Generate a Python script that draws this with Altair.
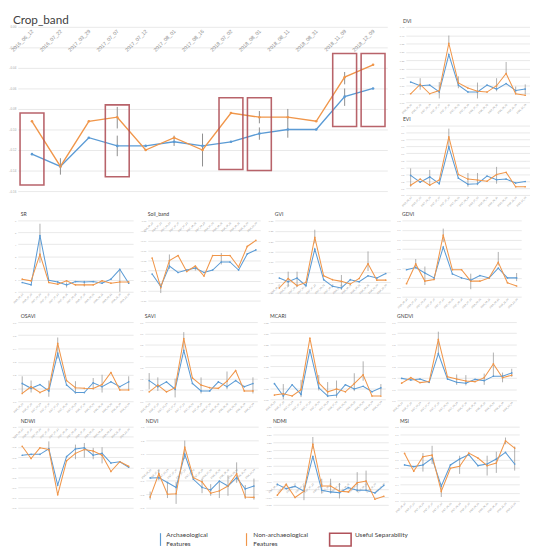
import altair as alt
import numpy as np
import pandas as pd

dates = ["2016_06_12", "2016_07_22", "2017_03_29", "2017_07_07", "2017_07_12",
         "2017_08_01", "2017_08_16", "2018_07_02", "2018_08_01", "2018_08_11",
         "2018_08_31", "2018_11_09", "2018_12_09"]
SERIES = ["Archaeological Features", "Non-archaeological Features"]
BLUE = "#5b9bd5"
ORANGE = "#f0964a"
RED = "#b0525a"

# ---------------- data ----------------
crop_arch = [-0.124, -0.136, -0.108, -0.116, -0.116, -0.112, -0.116, -0.112, -0.104, -0.100, -0.100, -0.068, -0.060]
crop_non = [-0.092, -0.136, -0.092, -0.088, -0.120, -0.108, -0.120, -0.084, -0.088, -0.088, -0.092, -0.049, -0.037]
crop_err_idx = [1, 3, 3, 5, 6, 8, 8, 9, 11, 11]
crop_err_lo = [-0.144, -0.099, -0.126, -0.116, -0.136, -0.094, -0.110, -0.108, -0.056, -0.077]
crop_err_hi = [-0.128, -0.078, -0.106, -0.106, -0.104, -0.082, -0.098, -0.080, -0.044, -0.060]
crop_box_idx = [0, 3, 7, 8, 11, 12]
crop_box_lo = [-0.154, -0.146, -0.139, -0.140, -0.097, -0.097]
crop_box_hi = [-0.084, -0.076, -0.069, -0.069, -0.026, -0.026]

dvi_arch = [0.120, 0.098, 0.102, 0.061, 0.284, 0.102, 0.061, 0.061, 0.102, 0.078, 0.111, 0.069, 0.078]
dvi_non = [0.050, 0.106, 0.050, 0.069, 0.352, 0.115, 0.084, 0.065, 0.060, 0.098, 0.171, 0.050, 0.041]
dvi_err_idx = [1, 3, 4, 5, 7, 9, 10, 11, 12]
dvi_err_lo = [0.074, 0.022, 0.352, 0.083, 0.022, 0.065, 0.167, 0.050, 0.046]
dvi_err_hi = [0.143, 0.120, 0.398, 0.154, 0.117, 0.143, 0.240, 0.093, 0.106]

evi_arch = [0.282, 0.185, 0.260, 0.163, 0.692, 0.242, 0.154, 0.163, 0.273, 0.220, 0.229, 0.172, 0.194]
evi_non = [0.141, 0.229, 0.141, 0.216, 0.837, 0.295, 0.229, 0.216, 0.198, 0.295, 0.326, 0.119, 0.119]
evi_err_idx = [0, 2, 4, 6, 7, 9]
evi_err_lo = [0.119, 0.141, 0.670, 0.119, 0.141, 0.163]
evi_err_hi = [0.383, 0.361, 0.956, 0.317, 0.317, 0.405]

sr_arch = [0.78, 0.58, 4.72, 0.97, 0.83, 0.58, 0.86, 0.83, 0.86, 0.72, 1.06, 1.89, 0.72]
sr_non = [1.06, 0.92, 3.14, 0.78, 0.64, 0.92, 0.58, 0.58, 0.58, 0.92, 0.72, 0.83, 0.83]
sr_err_idx = [2, 2, 5, 7, 11]
sr_err_lo = [3.83, 2.44, 0.36, 0.44, 0.0]
sr_err_hi = [5.72, 3.83, 0.78, 0.92, 1.90]

soil_arch = [-0.107, -0.132, -0.091, -0.104, -0.099, -0.095, -0.104, -0.099, -0.083, -0.083, -0.099, -0.067, -0.059]
soil_non = [-0.075, -0.134, -0.080, -0.070, -0.102, -0.091, -0.111, -0.070, -0.070, -0.070, -0.093, -0.052, -0.040]
soil_err_idx = [1, 2, 5, 8]
soil_err_lo = [-0.145, -0.097, -0.100, -0.088]
soil_err_hi = [-0.126, -0.068, -0.093, -0.065]

gvi_arch = [0.021, 0.003, 0.021, -0.016, 0.161, 0.013, -0.019, -0.027, 0.013, 0.003, 0.032, 0.021, 0.043]
gvi_non = [-0.027, 0.019, -0.016, 0.000, 0.218, 0.032, 0.013, 0.005, -0.008, 0.019, 0.090, 0.011, 0.011]
gvi_err_idx = [1, 2, 4, 7, 10]
gvi_err_lo = [-0.021, -0.021, 0.189, -0.036, 0.055]
gvi_err_hi = [0.052, 0.052, 0.255, 0.036, 0.150]

gdvi_arch = [0.282, 0.306, 0.248, 0.197, 0.520, 0.238, 0.197, 0.173, 0.221, 0.197, 0.299, 0.197, 0.197]
gdvi_non = [0.136, 0.343, 0.163, 0.180, 0.646, 0.282, 0.282, 0.163, 0.163, 0.197, 0.361, 0.146, 0.112]
gdvi_err_idx = [1, 2, 4, 7, 10, 12]
gdvi_err_lo = [0.299, 0.122, 0.571, 0.078, 0.327, 0.163]
gdvi_err_hi = [0.395, 0.316, 0.714, 0.241, 0.469, 0.248]

osavi_arch = [0.135, 0.098, 0.127, 0.078, 0.365, 0.123, 0.066, 0.066, 0.140, 0.110, 0.147, 0.110, 0.147]
osavi_non = [0.059, 0.110, 0.066, 0.096, 0.439, 0.157, 0.103, 0.098, 0.096, 0.127, 0.218, 0.086, 0.086]
osavi_err_idx = [0, 1, 3, 4, 6, 8, 9, 12]
osavi_err_lo = [0.066, 0.066, 0.034, 0.324, 0.059, 0.091, 0.066, 0.091]
osavi_err_hi = [0.189, 0.157, 0.157, 0.483, 0.152, 0.176, 0.201, 0.189]

savi_arch = [0.183, 0.129, 0.171, 0.106, 0.449, 0.157, 0.091, 0.091, 0.171, 0.129, 0.183, 0.129, 0.157]
savi_non = [0.083, 0.143, 0.083, 0.120, 0.554, 0.206, 0.143, 0.120, 0.114, 0.177, 0.271, 0.091, 0.091]
savi_err_idx = [0, 1, 3, 4, 6, 9, 12]
savi_err_lo = [0.106, 0.091, 0.034, 0.449, 0.069, 0.106, 0.069]
savi_err_hi = [0.249, 0.211, 0.200, 0.611, 0.211, 0.263, 0.211]

mcari_arch = [0.071, 0.015, 0.066, 0.022, 0.224, 0.052, 0.015, 0.019, 0.066, 0.047, 0.059, 0.034, 0.052]
mcari_non = [0.019, 0.025, 0.015, 0.044, 0.277, 0.074, 0.034, 0.047, 0.034, 0.071, 0.111, 0.015, 0.015]
mcari_err_idx = [1, 3, 5, 6, 7, 9, 10, 12]
mcari_err_lo = [0.000, 0.010, 0.040, 0.010, 0.007, 0.037, 0.084, 0.019]
mcari_err_hi = [0.069, 0.088, 0.110, 0.078, 0.085, 0.118, 0.172, 0.069]

gndvi_arch = [0.196, 0.182, 0.190, 0.161, 0.418, 0.190, 0.161, 0.153, 0.187, 0.176, 0.216, 0.216, 0.245]
gndvi_non = [0.153, 0.202, 0.158, 0.167, 0.545, 0.210, 0.190, 0.173, 0.167, 0.202, 0.326, 0.202, 0.225]
gndvi_err_idx = [4, 6, 7, 9, 10, 11, 12]
gndvi_err_lo = [0.412, 0.138, 0.133, 0.138, 0.210, 0.161, 0.210]
gndvi_err_hi = [0.614, 0.231, 0.225, 0.239, 0.427, 0.248, 0.282]

ndwi_arch = [-0.282, -0.273, -0.273, -0.219, -0.576, -0.295, -0.219, -0.209, -0.282, -0.263, -0.359, -0.346, -0.400]
ndwi_non = [-0.193, -0.314, -0.209, -0.225, -0.672, -0.337, -0.263, -0.225, -0.241, -0.282, -0.442, -0.346, -0.391]
ndwi_err_idx = [3, 6, 7, 8, 9]
ndwi_err_lo = [-0.241, -0.321, -0.305, -0.321, -0.362]
ndwi_err_hi = [-0.145, -0.177, -0.161, -0.209, -0.203]

ndvi_arch = [-0.079, -0.077, -0.113, -0.149, 0.096, -0.089, -0.149, -0.168, -0.103, -0.139, -0.077, -0.161, -0.139]
ndvi_non = [-0.221, -0.048, -0.199, -0.197, 0.149, -0.077, -0.108, -0.192, -0.175, -0.139, -0.048, -0.221, -0.223]
ndvi_err_idx = [0, 1, 2, 3, 4, 6, 7, 8, 9, 10, 11, 12]
ndvi_err_lo = [-0.240, -0.096, -0.228, -0.271, 0.060, -0.192, -0.211, -0.228, -0.211, -0.115, -0.235, -0.240]
ndvi_err_hi = [-0.180, -0.019, -0.108, -0.108, 0.197, -0.084, -0.125, -0.108, -0.060, 0.036, -0.132, -0.084]

ndmi_arch = [-0.019, -0.046, -0.032, -0.063, 0.160, -0.057, -0.067, -0.072, -0.040, -0.057, -0.057, -0.074, -0.025]
ndmi_non = [-0.088, -0.019, -0.103, -0.063, 0.238, -0.030, -0.030, -0.063, -0.067, -0.009, 0.002, -0.114, -0.095]
ndmi_err_idx = [3, 4, 5, 6, 7, 9, 10]
ndmi_err_lo = [-0.120, 0.206, -0.078, -0.078, -0.109, -0.067, -0.057]
ndmi_err_hi = [-0.025, 0.284, 0.017, 0.017, -0.011, 0.059, 0.069]

msi_arch = [0.872, 0.832, 0.872, 1.032, 0.360, 0.872, 1.016, 1.120, 0.856, 0.896, 1.016, 1.176, 0.896]
msi_non = [1.152, 0.720, 1.072, 1.112, 0.232, 0.792, 0.840, 1.160, 1.040, 0.856, 0.920, 1.456, 1.280]
msi_err_idx = [2, 3, 4, 6, 9, 10, 11, 12]
msi_err_lo = [0.712, 0.896, 0.096, 0.656, 0.616, 0.680, 1.376, 0.736]
msi_err_hi = [1.160, 1.336, 0.416, 1.096, 1.096, 1.192, 1.536, 1.320]

LABEL_EXPR = "[" + ",".join("'%s'" % d for d in dates) + "][datum.value]"
FONT = "Lato"


def panel(title, arch, non, e_idx, e_lo, e_hi, domain, step, w, h,
          axis_at="bottom", big=False, boxes=None, title_dx=0, title_offset=2):
    n = len(dates)
    df = pd.DataFrame({"idx": list(range(n)) * 2, "value": arch + non,
                       "series": [SERIES[0]] * n + [SERIES[1]] * n})
    edf = pd.DataFrame({"idx": e_idx, "lo": e_lo, "hi": e_hi})
    lo, hi = domain
    if axis_at == "top":
        off = -h
    elif axis_at == "zero":
        off = -h * (0 - lo) / (hi - lo)
    else:
        off = 0
    xs = alt.Scale(domain=[-0.5, n - 0.5], nice=False, zero=False)
    ys = alt.Scale(domain=[lo, hi], nice=False, zero=False)
    xax = alt.Axis(values=list(range(n)), labelExpr=LABEL_EXPR, labelAngle=-45,
                   labelAlign="right", labelBaseline="middle",
                   labelFontSize=5.3 if big else 2.4, labelColor="#8c8c8c",
                   labelPadding=3 if big else 1.5, labelOverlap=False, labelFlush=False,
                   grid=False, domain=False, ticks=False, offset=off, title=None,
                   labelFont="Liberation Sans")
    yvals = [float(v) for v in np.round(np.arange(lo, hi + step / 2, step), 4)]
    yax = alt.Axis(values=yvals, grid=True, gridColor="#d9d9d9", gridWidth=0.6,
                   domain=False, ticks=False, labelFontSize=3 if big else 2.4,
                   labelColor="#a6a6a6", labelPadding=2, labelOverlap=False,
                   labelFlush=False, title=None, labelFont="Liberation Sans")
    X = alt.X("idx:Q", scale=xs, axis=xax)
    errs = alt.Chart(edf).mark_rule(color="#8c8c8c", strokeWidth=1.0 if big else 0.7).encode(
        x=X, y=alt.Y("lo:Q", scale=ys, axis=yax), y2="hi:Q")
    lines = alt.Chart(df).mark_line(
        strokeWidth=1.4 if big else 1.05,
        point=alt.OverlayMarkDef(size=7 if big else 3, filled=True)).encode(
        x=X, y=alt.Y("value:Q", scale=ys, axis=yax),
        color=alt.Color("series:N", scale=alt.Scale(domain=SERIES, range=[BLUE, ORANGE]), legend=None),
        order="idx:Q")
    layers = [errs, lines]
    if boxes is not None:
        bidx, blo, bhi = boxes
        bdf = pd.DataFrame({"x0": [i - 0.42 for i in bidx], "x1": [i + 0.42 for i in bidx],
                            "lo": blo, "hi": bhi})
        layers.append(alt.Chart(bdf).mark_rect(fillOpacity=0, stroke=RED, strokeWidth=1.6,
                                               strokeOpacity=0.9).encode(
            x=alt.X("x0:Q", scale=xs, axis=xax), x2="x1:Q",
            y=alt.Y("lo:Q", scale=ys, axis=yax), y2="hi:Q"))
    return alt.layer(*layers).properties(
        width=w, height=h,
        title=alt.TitleParams(title, anchor="start", frame="group", font=FONT,
                              fontSize=12 if big else 5.2, fontWeight="normal",
                              color="#404040", offset=title_offset, dx=title_dx))


crop = panel("Crop_band", crop_arch, crop_non, crop_err_idx, crop_err_lo, crop_err_hi,
             (-0.16, 0), 0.02, 378, 168, axis_at="top", big=True,
             boxes=(crop_box_idx, crop_box_lo, crop_box_hi), title_dx=-5, title_offset=-1)
dvi = panel("DVI", dvi_arch, dvi_non, dvi_err_idx, dvi_err_lo, dvi_err_hi, (0, 0.45), 0.05, 127, 77, title_dx=-3)
evi = panel("EVI", evi_arch, evi_non, evi_err_idx, evi_err_lo, evi_err_hi, (0, 1.0), 0.1, 127, 71, title_dx=-3)

W = [118, 115, 118, 122]
sr = panel("SR", sr_arch, sr_non, sr_err_idx, sr_err_lo, sr_err_hi, (0, 6), 1, W[0], 73, title_dx=3)
soil = panel("Soil_band", soil_arch, soil_non, soil_err_idx, soil_err_lo, soil_err_hi, (-0.16, 0), 0.02, W[1], 82, axis_at="top")
gvi = panel("GVI", gvi_arch, gvi_non, gvi_err_idx, gvi_err_lo, gvi_err_hi, (-0.05, 0.30), 0.05, W[2], 74, axis_at="zero")
gdvi = panel("GDVI", gdvi_arch, gdvi_non, gdvi_err_idx, gdvi_err_lo, gdvi_err_hi, (0, 0.8), 0.1, W[3], 78)

osavi = panel("OSAVI", osavi_arch, osavi_non, osavi_err_idx, osavi_err_lo, osavi_err_hi, (0, 0.6), 0.1, W[0], 81, title_dx=3)
savi = panel("SAVI", savi_arch, savi_non, savi_err_idx, savi_err_lo, savi_err_hi, (0, 0.7), 0.1, W[1], 81)
mcari = panel("MCARI", mcari_arch, mcari_non, mcari_err_idx, mcari_err_lo, mcari_err_hi, (0, 0.35), 0.05, W[2], 79)
gndvi = panel("GNDVI", gndvi_arch, gndvi_non, gndvi_err_idx, gndvi_err_lo, gndvi_err_hi, (0, 0.7), 0.1, W[3], 80)

ndwi = panel("NDWI", ndwi_arch, ndwi_non, ndwi_err_idx, ndwi_err_lo, ndwi_err_hi, (-0.8, 0), 0.1, W[0], 83, axis_at="top", title_dx=3)
ndvi = panel("NDVI", ndvi_arch, ndvi_non, ndvi_err_idx, ndvi_err_lo, ndvi_err_hi, (-0.3, 0.3), 0.1, W[1], 83, axis_at="zero")
ndmi = panel("NDMI", ndmi_arch, ndmi_non, ndmi_err_idx, ndmi_err_lo, ndmi_err_hi, (-0.15, 0.35), 0.05, W[2], 80, axis_at="zero")
msi = panel("MSI", msi_arch, msi_non, msi_err_idx, msi_err_lo, msi_err_hi, (0, 1.8), 0.2, W[3], 76)

# ---------------- legend panel ----------------
one = pd.DataFrame({"k": [0]})
base = alt.Chart(one)
leg_labels = [["Archaeological", "Features"], ["Non-archaeological", "Features"], "Useful Separability"]
txt = dict(align="left", baseline="top", font=FONT, fontSize=6.6, lineHeight=9.5, color="#404040")
legend = alt.layer(
    base.mark_rule(color=BLUE, strokeWidth=1.2).encode(x=alt.value(146), y=alt.value(6), y2=alt.value(19)),
    base.mark_text(**txt).encode(x=alt.value(152), y=alt.value(5), text=alt.value(leg_labels[0])),
    base.mark_rule(color=ORANGE, strokeWidth=1.2).encode(x=alt.value(234), y=alt.value(6), y2=alt.value(19)),
    base.mark_text(**txt).encode(x=alt.value(241), y=alt.value(5), text=alt.value(leg_labels[1])),
    base.mark_rect(fillOpacity=0, stroke=RED, strokeWidth=1.6).encode(
        x=alt.value(319), x2=alt.value(341), y=alt.value(6), y2=alt.value(19)),
    base.mark_text(**txt).encode(x=alt.value(345), y=alt.value(5), text=alt.value(leg_labels[2])),
).properties(width=500, height=20)

right_col = alt.vconcat(dvi, evi, spacing=3)
row1 = alt.hconcat(crop, right_col, spacing=12)
row2 = alt.hconcat(sr, soil, gvi, gdvi, spacing=6)
row3 = alt.hconcat(osavi, savi, mcari, gndvi, spacing=6)
row4 = alt.hconcat(ndwi, ndvi, ndmi, msi, spacing=6)
main = alt.vconcat(row1, row2, row3, row4, spacing=5)

chart = alt.vconcat(main, legend, spacing=15).properties(
    padding=0, background="white"
).configure(font=FONT, view=alt.ViewConfig(stroke=None))

chart.save("out.html", embed_options={"renderer": "svg", "actions": False})
